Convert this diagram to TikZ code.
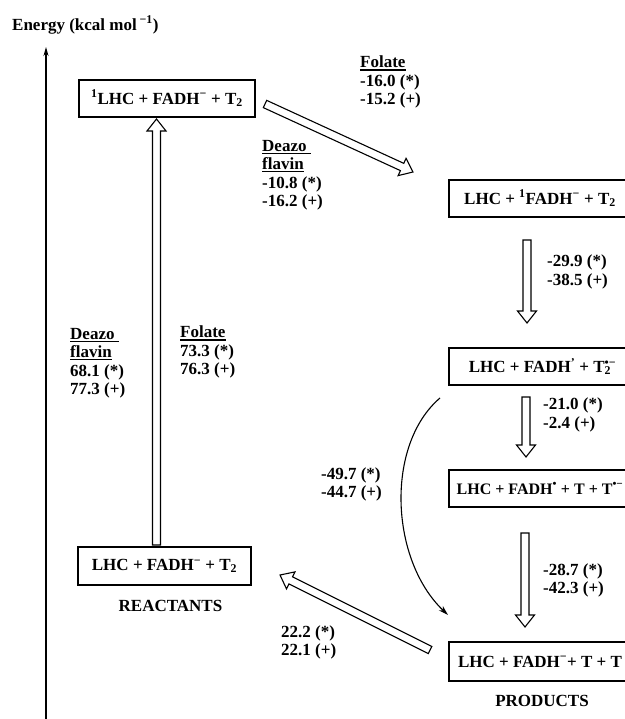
\documentclass[tikz,border=0pt]{standalone}
\usepackage{fontspec}
\setmainfont{Liberation Serif}
\usetikzlibrary{calc,arrows.meta,positioning}

\tikzset{
	statebox/.style={draw,line width=1.3pt,minimum height=37pt,inner sep=0pt},
	val/.style={anchor=north west,align=left,inner sep=0pt},
	hollow/.style={line width=1.1pt,line join=miter,fill=white},
}
\newcommand\uline[1]{\setbox0\hbox{#1}\rlap{\rule[-2.6pt]{\wd0}{1.3pt}}\box0}
\newcommand\hollowarrow[2]{%
	\draw[hollow] let \p1=(#1), \p2=(#2), \n1={atan2(\y2-\y1,\x2-\x1)}, \n2={veclen(\x2-\x1,\y2-\y1)} in
		[shift={(\p1)},rotate=\n1] (0pt,-4pt) -- (\n2-12pt,-4pt) -- (\n2-12pt,-9.5pt) -- (\n2,0pt)
		-- (\n2-12pt,9.5pt) -- (\n2-12pt,4pt) -- (0pt,4pt) -- cycle;}

\begin{document}
\begin{tikzpicture}[x=1pt,y=-1pt,font=\fontsize{17}{18.5}\selectfont\bfseries]
	\useasboundingbox (0,0) rectangle (624,719);

	% energy axis
	\coordinate (ax0) at (46,719);
	\coordinate (ax1) at (46,47);
	\draw[line width=1.2pt,-{Stealth[length=9pt,width=5pt]}] (ax0) -- (ax1);
	\node[anchor=west,inner sep=0pt] (ylab) at (12,25) {Energy (kcal mol\,\textsuperscript{−1})};

	% states
	\node[statebox,minimum width=176pt] (s0) at (167,98.5) {\textsuperscript{1}LHC + FADH\textsuperscript{−} + T\textsubscript{2}};
	\node[statebox,minimum width=182pt] (r1) at (540,198.5) {LHC + \textsuperscript{1}FADH\textsuperscript{−} + T\textsubscript{2}};
	\node[statebox,minimum width=182pt] (r2) at (540,366.5) {LHC + FADH\textsuperscript{'} + T\rlap{\textsuperscript{•−}}\textsubscript{2}};
	\node[statebox,minimum width=182pt,font=\fontsize{16}{18}\selectfont\bfseries] (r3) at (540,488.5) {LHC + FADH\textsuperscript{•} + T + T\textsuperscript{•−}};
	\node[statebox,minimum width=182pt,minimum height=39pt] (prod) at (540,661.5) {LHC + FADH\textsuperscript{−}+ T + T};
	\node[statebox,minimum width=173pt,minimum height=38pt] (react) at (164.5,566) {LHC + FADH\textsuperscript{−} + T\textsubscript{2}};
	\node[inner sep=0pt,below=14pt of react,xshift=6pt] (reactlab) {REACTANTS};
	\node[inner sep=0pt,below=13pt of prod,xshift=2pt] (prodlab) {PRODUCTS};

	% hollow arrows
	\coordinate (a0) at (156.5,545);
	\coordinate (a1) at (156.5,119);
	\coordinate (b0) at (265,104);
	\coordinate (b1) at (413,172);
	\coordinate (c0) at (527,240);
	\coordinate (c1) at (527,323);
	\coordinate (d0) at (526,397);
	\coordinate (d1) at (526,457);
	\coordinate (e0) at (525,533);
	\coordinate (e1) at (525,627);
	\coordinate (f0) at (430,650);
	\coordinate (f1) at (280,575);
	\hollowarrow{a0}{a1}
	\hollowarrow{b0}{b1}
	\hollowarrow{c0}{c1}
	\hollowarrow{d0}{d1}
	\hollowarrow{e0}{e1}
	\hollowarrow{f0}{f1}

	% direct path r2 -> products
	\coordinate (g0) at (440,398);
	\coordinate (g1) at (448,615);
	\draw[line width=1.1pt,-{Stealth[length=10pt,width=6pt]}] (g0) .. controls (385,445) and (390,560) .. (g1);

	% values
	\node[val] (fol1) at (360,56) {\uline{Folate}\\-16.0 (*)\\-15.2 (+)};
	\node[val] (dz1) at (262,140) {\uline{Deazo\ }\\\uline{flavin}\\-10.8 (*)\\-16.2 (+)};
	\node[val] (v12) at (547,255) {-29.9 (*)\\-38.5 (+)};
	\node[val] (dz2) at (70,328) {\uline{Deazo\ }\\\uline{flavin}\\68.1 (*)\\77.3 (+)};
	\node[val] (fol2) at (180,326) {\uline{Folate}\\73.3 (*)\\76.3 (+)};
	\node[val] (v23) at (543,398) {-21.0 (*)\\-2.4 (+)};
	\node[val,anchor=north east] (v2p) at (382,467) {-49.7 (*)\\-44.7 (+)};
	\node[val] (v3p) at (543,563) {-28.7 (*)\\-42.3 (+)};
	\node[val] (vrp) at (281,625) {22.2 (*)\\22.1 (+)};
\end{tikzpicture}
\end{document}
